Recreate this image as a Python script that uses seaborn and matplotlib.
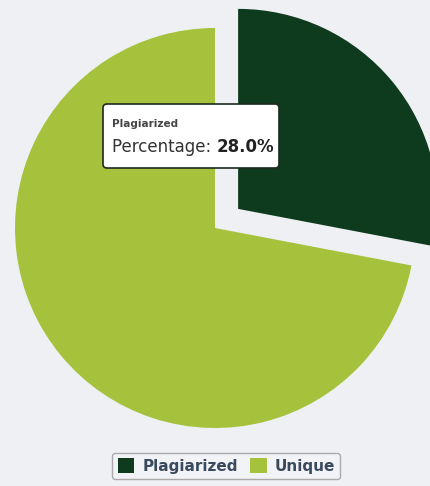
#!/usr/bin/env python3
import matplotlib
matplotlib.use("Agg")
import matplotlib.pyplot as plt
import seaborn as sns
from matplotlib.patches import FancyBboxPatch

labels = ["Plagiarized", "Unique"]
values = [28.0, 72.0]
colors = ["#0e3a1e", "#a6c13c"]

sns.set_theme(style="white")
plt.rcParams["font.family"] = ["DejaVu Sans"]

fig = plt.figure(figsize=(4.30, 4.86), dpi=100)
fig.patch.set_facecolor("#eef0f3")
ax = fig.add_axes([0, 0, 1, 1])
ax.set_facecolor("#eef0f3")

# pixel-like coordinates: x 0..430, y 0..486 (bottom up)
wedges, _ = ax.pie(values, colors=colors, startangle=90, counterclock=False,
                   radius=200, center=(215, 258), explode=[30, 0],
                   wedgeprops={"linewidth": 0})
ax.set_xlim(0, 430)
ax.set_ylim(0, 486)
ax.set_aspect("equal")
ax.axis("off")

# tooltip
box = FancyBboxPatch((103, 318), 176, 64, boxstyle="round,pad=0,rounding_size=4",
                     facecolor="white", edgecolor="#1e2a1e", linewidth=1.2,
                     zorder=5)
ax.add_patch(box)
ax.text(112, 362, labels[0], fontsize=7.5, fontweight="bold", color="#444444",
        va="center", ha="left", zorder=6)
t = ax.text(112, 339, "Percentage: ", fontsize=12, color="#333333",
            va="center", ha="left", zorder=6)
fig.canvas.draw()
bb = t.get_window_extent().transformed(ax.transData.inverted())
ax.text(bb.x1, 339, f"{values[0]:.1f}%", fontsize=12, fontweight="bold",
        color="#222222", va="center", ha="left", zorder=6)

leg = fig.legend(wedges, labels, loc="center", bbox_to_anchor=(0.526, 0.041),
                 ncol=2, frameon=True, fontsize=11, handlelength=1.1,
                 handleheight=1.1, handletextpad=0.5, columnspacing=0.8,
                 borderpad=0.35)
leg.get_frame().set_edgecolor("#999999")
leg.get_frame().set_facecolor("#f4f5f7")
for txt in leg.get_texts():
    txt.set_color("#3a4a5e")
    txt.set_fontweight("bold")

fig.savefig("out.png", dpi=100, facecolor=fig.get_facecolor())
